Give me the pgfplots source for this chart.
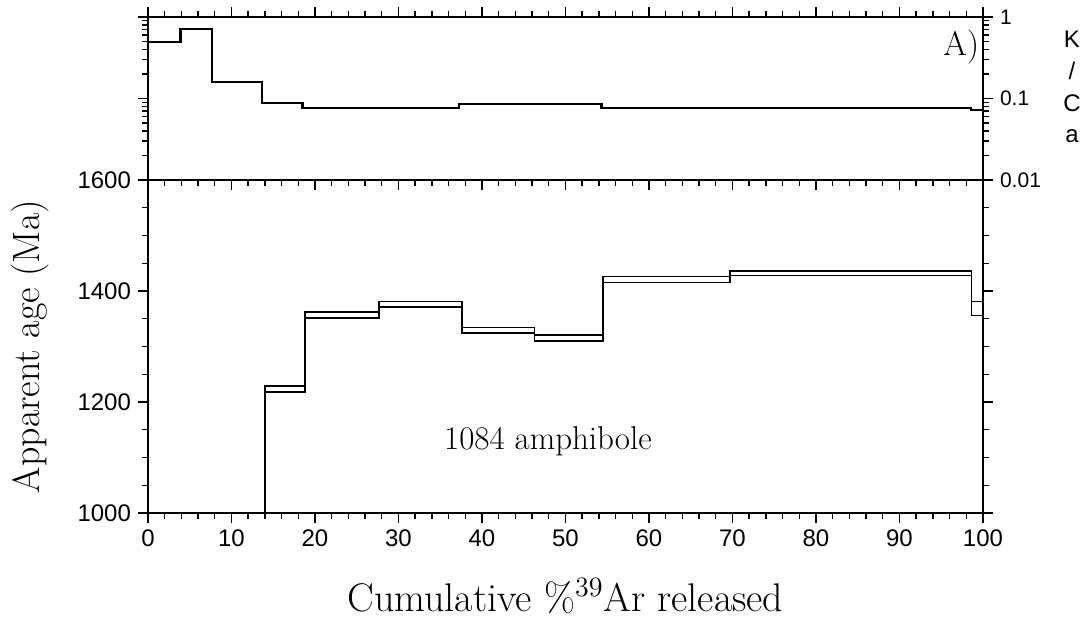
\documentclass[border=0pt]{standalone}
\usepackage{fontspec}
\newfontfamily\sff{Liberation Sans}
\usepackage{pgfplots}
\pgfplotsset{compat=1.18}
\begin{document}
\begin{tikzpicture}
\pgfplotsset{
  every axis/.append style={
    scale only axis, width=417.5pt,
    xmin=0, xmax=100,
    xtick={0,10,...,100}, minor x tick num=4,
    tick align=outside,
    major tick length=5pt, minor tick length=3pt,
    axis line style={line width=0.9pt},
    every tick/.style={black, line width=0.7pt},
    /pgf/number format/assume math mode=true,
    /pgf/number format/1000 sep={},
  }
}
\begin{axis}[name=top, height=81.5pt,
  ymode=log, ymin=0.01, ymax=1,
  xticklabels={},
  ytick={0.01,0.1,1}, yticklabels={0.01,0.1,1},
  yticklabel pos=right, ytick pos=both,
  yticklabel style={font=\sff\fontsize{10.5}{12}\selectfont},
]
\addplot[const plot, line width=1.1pt, black] coordinates {
(0,0.49) (3.9,0.71) (7.7,0.16) (13.7,0.0875) (18.5,0.077) (37.2,0.085) (54.3,0.077) (98.6,0.073) (100,0.073)};
\node[font=\fontsize{17}{20}\selectfont] at (axis cs:97.4,0.43) {A)};
\end{axis}
\begin{axis}[name=bot, at={(top.south west)}, anchor=north west, height=166.5pt,
  ymin=1000, ymax=1600,
  ytick={1000,1200,1400,1600}, minor y tick num=3,
  ytick pos=both, yticklabel pos=left, xtick pos=left,
  ticklabel style={font=\sff\fontsize{12}{14}\selectfont},
  xlabel={Cumulative \%\textsuperscript{39}Ar released},
  ylabel={Apparent age (Ma)},
  xlabel style={font=\fontsize{20}{23}\selectfont, at={(axis description cs:0.5,-0.25)}, anchor=center},
  ylabel style={font=\fontsize{19}{22}\selectfont, at={(axis description cs:-0.1413,0.5)}, anchor=center},
]
\addplot[const plot, line width=0.8pt, black] coordinates {
(0,950) (14.0,1229) (18.8,1362) (27.7,1381) (37.6,1334) (46.3,1321) (54.5,1426) (69.7,1436) (98.6,1381) (100,1381)};
\addplot[const plot, line width=0.8pt, black] coordinates {
(0,950) (14.0,1218) (18.8,1351) (27.7,1371) (37.6,1324) (46.3,1310) (54.5,1415) (69.7,1428) (98.6,1356) (100,1356)};
\node[font=\fontsize{16.5}{19}\selectfont] at (axis cs:47.9,1130) {1084 amphibole};
\end{axis}
\node[font=\sff\fontsize{12}{14}\selectfont, align=center, anchor=center, inner sep=0pt] at ([xshift=44.5pt,yshift=5.75pt]top.east) {K\\[1.9pt]/\\[1.9pt]C\\[1.9pt]a};
\pgfresetboundingbox
\path (bot.south west) ++(-74pt,-52.5pt) rectangle ++(542pt,309pt);
\end{tikzpicture}
\end{document}
